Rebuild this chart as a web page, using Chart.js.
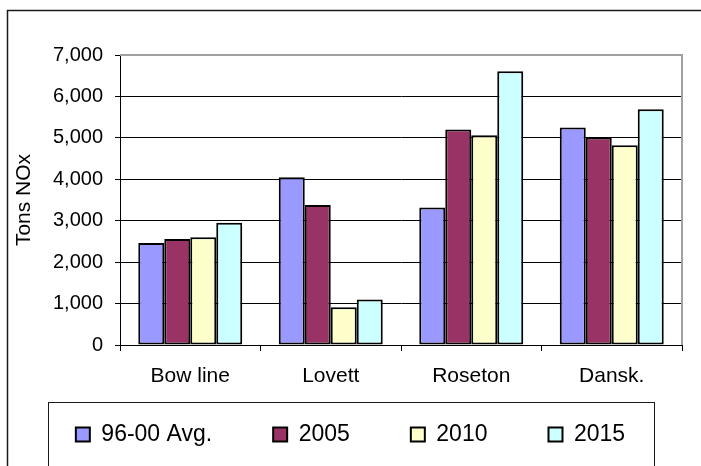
<!DOCTYPE html>
<html>
<head>
<meta charset="utf-8">
<script src="https://cdn.jsdelivr.net/npm/chart.js@4/dist/chart.umd.min.js"></script>
<style>
  html, body { margin:0; padding:0; background:#fff; }
  #wrap { width:701px; height:466px; position:relative; }
</style>
</head>
<body>
<div id="wrap"><canvas id="c"></canvas></div>
<script>
// NOx emissions by plant, tons
const plants = ["Bow line", "Lovett", "Roseton", "Dansk."];
const avg9600 = [2460, 4050, 3320, 5250];
const y2005 = [2560, 3380, 5200, 5010];
const y2010 = [2600, 910, 5060, 4820];
const y2015 = [2950, 1100, 6610, 5690];
const yTicks = [0, 1000, 2000, 3000, 4000, 5000, 6000, 7000];

const FONT = "'Liberation Sans', Arial, sans-serif";
Chart.defaults.font.family = FONT;
Chart.defaults.color = "#000";

const bar = (label, data, color) => ({label, data, backgroundColor:color,
  borderColor:"#000", borderWidth:2, borderSkipped:false});

// frame, plot border and legend box like the Excel original
const frame = {
  id:"frame",
  afterDatasetsDraw(chart) {
    const {ctx, chartArea:a} = chart;
    ctx.save();
    ctx.strokeStyle = "#a0a0a0"; ctx.lineWidth = 2;
    ctx.beginPath();
    ctx.moveTo(a.left, a.top); ctx.lineTo(a.right, a.top); ctx.lineTo(a.right, a.bottom);
    ctx.stroke();
    ctx.restore();
  },
  afterDraw(chart) {
    const {ctx, width, height} = chart;
    ctx.save();
    ctx.strokeStyle = "#1a1a1a"; ctx.lineWidth = 1.5;
    ctx.beginPath();
    ctx.moveTo(7.5, height); ctx.lineTo(7.5, 10.5); ctx.lineTo(width, 10.5);
    ctx.stroke();
    ctx.lineWidth = 1;
    ctx.strokeRect(Math.round(width / 2 - 303) + .5, 402.5, 606, 100);
    ctx.restore();
  }
};

new Chart(document.getElementById("c"), {
  type:"bar",
  data:{labels:plants, datasets:[
    bar("96-00 Avg.", avg9600, "#9999ff"),
    bar("2005", y2005, "#993366"),
    bar("2010", y2010, "#ffffcc"),
    bar("2015", y2015, "#ccffff"),
  ]},
  options:{
    responsive:true, maintainAspectRatio:false, animation:false,
    layout:{padding:{left:0, right:0, top:55, bottom:10}},
    datasets:{bar:{categoryPercentage:0.74, barPercentage:1}},
    plugins:{
      tooltip:{enabled:false},
      legend:{position:"bottom",
        labels:{boxWidth:14, boxHeight:14, padding:61, color:"#000",
                font:{size:23, family:FONT}}},
    },
    scales:{
      x:{
        grid:{display:true, drawOnChartArea:false, drawTicks:true, tickLength:6, color:"#000", offset:true},
        border:{color:"#000", width:1},
        // mirror keeps the labels unclipped while the axis box stays short
        ticks:{mirror:true, padding:-44, font:{size:21}, color:"#000"},
        afterFit(s){ s.height = 17; },
      },
      y:{
        min:0, max:7000,
        afterBuildTicks(s){ s.ticks = yTicks.map(v => ({value:v})); },
        grid:{color:"#000", tickLength:5, lineWidth:1},
        border:{color:"#000", width:1},
        ticks:{padding:12, font:{size:20}, color:"#000",
               callback:v => v.toLocaleString("en-US")},
        title:{display:true, text:"Tons NOx", font:{size:21}, color:"#000", padding:{top:12, bottom:0}},
        afterFit(s){ s.width = 120; },
      },
      yr:{
        position:"right", display:true,
        grid:{display:false}, border:{display:false}, ticks:{display:false},
        afterFit(s){ s.width = 19; },
      },
    },
  },
  plugins:[frame],
});
</script>
</body>
</html>
